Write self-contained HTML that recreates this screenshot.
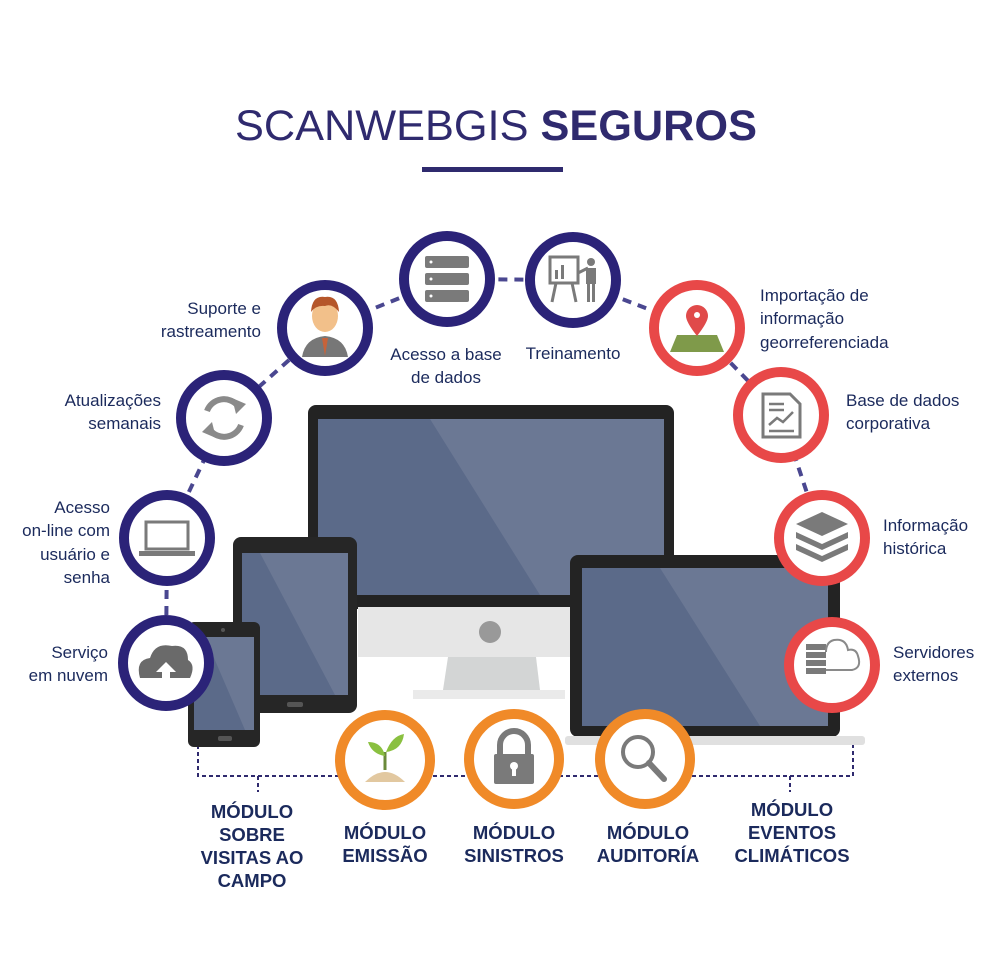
<!DOCTYPE html>
<html><head><meta charset="utf-8"><style>
html,body{margin:0;padding:0;background:#fff}
svg{display:block}
text{font-family:"Liberation Sans",sans-serif;fill:#1b2a5c}
.l{font-size:17px}
.b{font-size:18.5px;font-weight:bold}
</style></head><body>
<svg width="1000" height="976" viewBox="0 0 1000 976" xmlns="http://www.w3.org/2000/svg">
<rect width="1000" height="976" fill="#fff"/>
<!-- title -->
<text x="235" y="140" textLength="522" lengthAdjust="spacingAndGlyphs" style="font-size:43px;fill:#2f2a6e"><tspan font-weight="normal">SCANWEBGIS </tspan><tspan font-weight="bold">SEGUROS</tspan></text>
<rect x="422" y="167" width="141" height="5" fill="#2f2a6e"/>

<!-- dashed arc -->
<polyline points="166,663 167,538 224,418 325,328 447,279 573,280 697,328 781,415 822,538 832,665" fill="none" stroke="#4a4790" stroke-width="4" stroke-dasharray="9,7"/>
<!-- bottom bracket -->
<path d="M198,745 V776 H853 V745 M258,776 V792 M790,776 V792" fill="none" stroke="#2f2a6e" stroke-width="2" stroke-dasharray="4,3"/>

<!-- monitor -->
<rect x="308" y="405" width="366" height="204" rx="8" fill="#232323"/>
<rect x="318" y="419" width="346" height="176" fill="#5b6a89"/>
<polygon points="430,419 664,419 664,595 540,595" fill="#6b7894"/>
<rect x="358" y="607" width="266" height="50" fill="#e6e6e6"/>
<circle cx="490" cy="632" r="11" fill="#999"/>
<polygon points="448,657 536,657 540,690 443,690" fill="#d3d5d5"/>
<rect x="413" y="690" width="152" height="9" fill="#eaeaea"/>

<!-- tablet -->
<rect x="233" y="537" width="124" height="176" rx="8" fill="#262626"/>
<rect x="242" y="553" width="106" height="142" fill="#5b6a89"/>
<polygon points="260,553 348,553 348,695 335,695" fill="#6b7894"/>
<rect x="287" y="702" width="16" height="5" rx="2" fill="#555"/>
<!-- phone -->
<rect x="188" y="622" width="72" height="125" rx="6" fill="#262626"/>
<rect x="194" y="637" width="60" height="93" fill="#5b6a89"/>
<polygon points="205,637 254,637 254,730 245,730" fill="#6b7894"/>
<rect x="218" y="736" width="14" height="5" rx="2" fill="#555"/>
<circle cx="223" cy="630" r="2" fill="#555"/>

<!-- laptop -->
<rect x="570" y="555" width="270" height="182" rx="8" fill="#232323"/>
<rect x="582" y="568" width="246" height="158" fill="#5b6a89"/>
<polygon points="660,568 828,568 828,726 760,726" fill="#6b7894"/>
<rect x="565" y="736" width="300" height="9" rx="3" fill="#e0e0e0"/>

<!-- navy circles -->
<g fill="#fff" stroke="#2b2378" stroke-width="10">
<circle cx="325" cy="328" r="43"/>
<circle cx="447" cy="279" r="43"/>
<circle cx="573" cy="280" r="43"/>
<circle cx="224" cy="418" r="43"/>
<circle cx="167" cy="538" r="43"/>
<circle cx="166" cy="663" r="43"/>
</g>
<!-- red circles -->
<g fill="#fff" stroke="#e84848" stroke-width="10">
<circle cx="697" cy="328" r="43"/>
<circle cx="781" cy="415" r="43"/>
<circle cx="822" cy="538" r="43"/>
<circle cx="832" cy="665" r="43"/>
</g>
<!-- orange circles -->
<g fill="#fff" stroke="#f08a28" stroke-width="10">
<circle cx="385" cy="760" r="45"/>
<circle cx="514" cy="759" r="45"/>
<circle cx="645" cy="759" r="45"/>
</g>

<!-- icons -->
<path d="M302,357 Q305,338 325,336 Q345,338 348,357 Z" fill="#777"/>
<ellipse cx="325" cy="316" rx="13" ry="16" fill="#f2c08a"/>
<path d="M311,312 Q312,295 325,297 Q338,295 339,312 Q332,303 325,306 Q316,305 311,312Z" fill="#b5562a"/>
<path d="M322,338 L325,356 L328,338Z" fill="#c7633a"/>
<g fill="#7a7a7a"><rect x="425" y="256" width="44" height="12" rx="2"/><rect x="425" y="273" width="44" height="12" rx="2"/><rect x="425" y="290" width="44" height="12" rx="2"/></g>
<g fill="#fff"><circle cx="431" cy="262" r="1.5"/><circle cx="431" cy="279" r="1.5"/><circle cx="431" cy="296" r="1.5"/></g>
<g fill="none" stroke="#7a7a7a" stroke-width="3"><rect x="550" y="257" width="28" height="26"/><path d="M556,283 L552,302 M572,283 L576,302"/><path d="M578,273 L588,268"/></g>
<g fill="#7a7a7a"><rect x="555" y="270" width="3" height="9"/><rect x="561" y="265" width="3" height="14"/><circle cx="591" cy="262" r="4"/><rect x="586" y="268" width="10" height="16"/><rect x="587" y="284" width="3" height="18"/><rect x="592" y="284" width="3" height="18"/></g>
<g fill="none" stroke="#8a8a8a" stroke-width="6"><path d="M207,411 A18,18 0 0 1 238,406"/><path d="M241,425 A18,18 0 0 1 210,430"/></g>
<polygon points="232,398 246,404 236,414" fill="#8a8a8a"/><polygon points="216,438 202,432 212,422" fill="#8a8a8a"/>
<rect x="146" y="522" width="42" height="27" fill="none" stroke="#7a7a7a" stroke-width="3"/>
<rect x="139" y="551" width="56" height="5" fill="#7a7a7a"/>
<path d="M140,678 Q135,660 150,658 Q155,642 172,646 Q188,644 188,660 Q196,665 190,678 Z" fill="#6a6a6a"/>
<polygon points="166,662 176,672 170,672 170,680 162,680 162,672 156,672" fill="#fff"/>
<path d="M677,335 L717,335 L724,352 L670,352 Z" fill="#7f9a4a"/>
<path d="M697,336 Q686,322 686,316 A11,11 0 0 1 708,316 Q708,322 697,336Z" fill="#e04a4a"/>
<circle cx="697" cy="315" r="3" fill="#fff"/>
<path d="M763,394 H790 L800,404 V437 H763 Z" fill="none" stroke="#7a7a7a" stroke-width="3"/>
<path d="M769,404 H784 M769,410 H784 M769,425 L777,418 L783,422 L793,412 M769,431 H794" fill="none" stroke="#7a7a7a" stroke-width="2.5"/>
<g fill="#7a7a7a"><polygon points="822,512 848,524 822,536 796,524"/><polygon points="796,532 822,544 848,532 848,538 822,550 796,538"/><polygon points="796,544 822,556 848,544 848,550 822,562 796,550"/></g>
<g fill="#7a7a7a"><rect x="806" y="644" width="20" height="6"/><rect x="806" y="652" width="20" height="6"/><rect x="806" y="660" width="20" height="6"/><rect x="806" y="668" width="20" height="6"/></g>
<path d="M826,670 H852 Q862,668 858,656 Q856,648 848,650 Q846,638 834,640 Q826,642 826,652" fill="none" stroke="#8a8a8a" stroke-width="2"/>
<path d="M365,782 Q385,762 405,782 Z" fill="#e2c8a0"/>
<path d="M385,770 V752" stroke="#6a8a3a" stroke-width="3"/>
<path d="M385,756 Q372,754 368,742 Q382,742 385,756Z M386,752 Q392,736 404,734 Q402,750 386,752Z" fill="#8ac040"/>
<path d="M500,755 V745 A14,14 0 0 1 528,745 V755" fill="none" stroke="#7a7a7a" stroke-width="6"/>
<rect x="494" y="754" width="40" height="30" rx="2" fill="#7a7a7a"/>
<circle cx="514" cy="766" r="4" fill="#fff"/><rect x="512" y="767" width="4" height="9" fill="#fff"/>
<circle cx="638" cy="752" r="15" fill="none" stroke="#7a7a7a" stroke-width="4"/>
<path d="M649,763 L664,779" stroke="#7a7a7a" stroke-width="6" stroke-linecap="round"/>

<!-- labels -->
<g>
<text class="l" x="261" y="314" text-anchor="end">Suporte e</text>
<text class="l" x="261" y="337" text-anchor="end">rastreamento</text>
<text class="l" x="446" y="360" text-anchor="middle">Acesso a base</text>
<text class="l" x="446" y="383" text-anchor="middle">de dados</text>
<text class="l" x="573" y="359" text-anchor="middle">Treinamento</text>
<text class="l" x="161" y="406" text-anchor="end">Atualizações</text>
<text class="l" x="161" y="429" text-anchor="end">semanais</text>
<text class="l" x="110" y="513" text-anchor="end">Acesso</text>
<text class="l" x="110" y="536" text-anchor="end">on-line com</text>
<text class="l" x="110" y="560" text-anchor="end">usuário e</text>
<text class="l" x="110" y="583" text-anchor="end">senha</text>
<text class="l" x="108" y="658" text-anchor="end">Serviço</text>
<text class="l" x="108" y="681" text-anchor="end">em nuvem</text>
<text class="l" x="760" y="301">Importação de</text>
<text class="l" x="760" y="324">informação</text>
<text class="l" x="760" y="348">georreferenciada</text>
<text class="l" x="846" y="406">Base de dados</text>
<text class="l" x="846" y="429">corporativa</text>
<text class="l" x="883" y="531">Informação</text>
<text class="l" x="883" y="554">histórica</text>
<text class="l" x="893" y="658">Servidores</text>
<text class="l" x="893" y="681">externos</text>
</g>
<g>
<text class="b" x="252" y="818" text-anchor="middle">MÓDULO</text>
<text class="b" x="252" y="841" text-anchor="middle">SOBRE</text>
<text class="b" x="252" y="864" text-anchor="middle">VISITAS AO</text>
<text class="b" x="252" y="887" text-anchor="middle">CAMPO</text>
<text class="b" x="385" y="839" text-anchor="middle">MÓDULO</text>
<text class="b" x="385" y="862" text-anchor="middle">EMISSÃO</text>
<text class="b" x="514" y="839" text-anchor="middle">MÓDULO</text>
<text class="b" x="514" y="862" text-anchor="middle">SINISTROS</text>
<text class="b" x="648" y="839" text-anchor="middle">MÓDULO</text>
<text class="b" x="648" y="862" text-anchor="middle">AUDITORÍA</text>
<text class="b" x="792" y="816" text-anchor="middle">MÓDULO</text>
<text class="b" x="792" y="839" text-anchor="middle">EVENTOS</text>
<text class="b" x="792" y="862" text-anchor="middle">CLIMÁTICOS</text>
</g>
</svg>
</body></html>
